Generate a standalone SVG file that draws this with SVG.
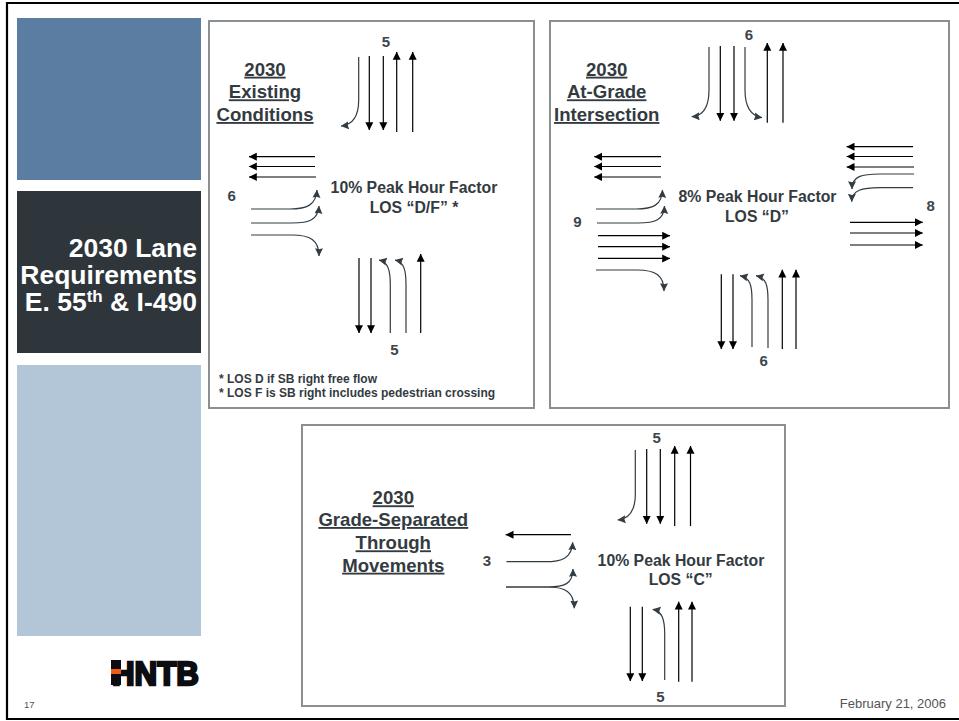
<svg xmlns="http://www.w3.org/2000/svg" width="959" height="721" viewBox="0 0 959 721">
<defs>
<marker id="s" markerUnits="userSpaceOnUse" markerWidth="9" markerHeight="9" refX="7.8" refY="4.5" orient="auto"><path d="M0,0.5 L8,4.5 L0,8.5 z" fill="#000"/></marker>
<marker id="c" markerUnits="userSpaceOnUse" markerWidth="9" markerHeight="9" refX="7.8" refY="4.5" orient="auto"><path d="M0,0.5 L8,4.5 L0,8.5 L1,4.5 z" fill="#333c42"/></marker>
</defs>
<style>
text{font-family:"Liberation Sans",Arial,sans-serif;fill:#333b41;font-weight:bold}
.panel{fill:#fff;stroke:#8a8f93;stroke-width:2}
.h{font-size:18.6px;text-anchor:middle;text-decoration:underline}
.m{font-size:15.8px;text-anchor:middle}
.n{font-size:15px;text-anchor:middle;fill:#3d454b}
.f{font-size:12px}
.t{font-size:26.5px;text-anchor:end;fill:#fff}
.st{fill:none;stroke:#000;stroke-width:1.2;marker-end:url(#s)}
.cv{fill:none;stroke:#333c42;stroke-width:1.2;marker-end:url(#c)}
.ft{font-weight:normal;fill:#555}
</style>
<rect width="959" height="721" fill="#fff"/>
<g id="frame"><path d="M959,3 H7 V719 H959" fill="none" stroke="#000" stroke-width="2.2"/></g>
<g id="sidebar">
<rect x="17" y="18" width="184" height="162" fill="#5a7da1"/>
<rect x="17" y="191" width="184" height="162" fill="#2e363c"/>
<rect x="17" y="365" width="184" height="271" fill="#b3c6d8"/>
<text class="t" x="197" y="257">2030 Lane</text>
<text class="t" x="197" y="284">Requirements</text>
<text class="t" x="197" y="311">E. 55<tspan font-size="17" dy="-9">th</tspan><tspan dy="9"> &amp; I-490</tspan></text>
</g>
<g id="logo">
<text x="112" y="684.5" font-size="34" textLength="87" lengthAdjust="spacingAndGlyphs" style="fill:#0b0d10;stroke:#0b0d10;stroke-width:2.4">HNTB</text>
<rect x="111" y="660" width="10" height="25" fill="#0b0d10"/>
<rect x="111" y="669" width="10" height="5" fill="#f05a14"/>
</g>
<g id="footer">
<text class="ft" x="24" y="708" font-size="9.5">17</text>
<text class="ft" x="946" y="708" font-size="13" text-anchor="end">February 21, 2006</text>
</g>
<g id="panel-existing">
<rect class="panel" x="209" y="21" width="325" height="387"/>
<text class="h" x="265" y="75.7">2030</text>
<text class="h" x="265" y="98.3">Existing</text>
<text class="h" x="265" y="121">Conditions</text>
<text class="m" x="414" y="192.7">10% Peak Hour Factor</text>
<text class="m" x="414" y="213.3">LOS “D/F” *</text>
<text class="n" x="386" y="46.5">5</text>
<text class="n" x="231.7" y="201">6</text>
<text class="n" x="394.3" y="355">5</text>
<text class="f" x="219" y="382.7">* LOS D if SB right free flow</text>
<text class="f" x="219" y="396.7">* LOS F is SB right includes pedestrian crossing</text>
</g>
<g id="panel-at-grade">
<rect class="panel" x="550" y="21" width="399" height="387"/>
<text class="h" x="606.7" y="75.7">2030</text>
<text class="h" x="606.7" y="98.3">At-Grade</text>
<text class="h" x="606.7" y="121">Intersection</text>
<text class="m" x="757.5" y="202.3">8% Peak Hour Factor</text>
<text class="m" x="757" y="222.3">LOS “D”</text>
<text class="n" x="749" y="40">6</text>
<text class="n" x="930.7" y="210.7">8</text>
<text class="n" x="577.3" y="227">9</text>
<text class="n" x="763.7" y="365.7">6</text>
</g>
<g id="panel-grade-separated">
<rect class="panel" x="302" y="425" width="483" height="281"/>
<text class="h" x="393.3" y="504.3">2030</text>
<text class="h" x="393.3" y="526">Grade-Separated</text>
<text class="h" x="393.3" y="549.3">Through</text>
<text class="h" x="393.3" y="571.7">Movements</text>
<text class="m" x="681" y="565.7">10% Peak Hour Factor</text>
<text class="m" x="680.7" y="585">LOS “C”</text>
<text class="n" x="656.7" y="443.3">5</text>
<text class="n" x="487" y="565.7">3</text>
<text class="n" x="660.3" y="701.7">5</text>
</g>
<g id="connectors">
<path class="cv" d="M358.7,57 V100 C358.7,118 351,125 341,126"/>
<path class="st" d="M369.3,56 V130"/>
<path class="st" d="M383.3,56 V130"/>
<path class="st" d="M396.7,132 V52"/>
<path class="st" d="M412.7,132 V52"/>
<path class="st" d="M315,156.7 H249"/>
<path class="st" d="M315,166.5 H249"/>
<path class="st" d="M316,177 H249"/>
<path class="cv" d="M251,209 H290 C307,209 316,205 317,190"/>
<path class="cv" d="M251,223 H292 C309,223 318,220 319,206"/>
<path class="cv" d="M251,235 H292 C310,235 319,240 319,256"/>
<path class="st" d="M359,258 V333"/>
<path class="st" d="M371,258 V333"/>
<path class="cv" d="M390.3,333 V285 C390.3,270 388,262 379,260"/>
<path class="cv" d="M406,333 V285 C406,270 404,262 395,260"/>
<path class="st" d="M420.7,333 V254"/>

<path class="cv" d="M709,47 V90 C709,108 702,116 691.7,116.7"/>
<path class="st" d="M720.3,46 V120.7"/>
<path class="st" d="M734,46 V120.7"/>
<path class="cv" d="M745,47 V90 C745,108 752,116 762,117.7"/>
<path class="st" d="M767.3,122.7 V43"/>
<path class="st" d="M783,122.7 V43"/>
<path class="st" d="M661,156.7 H594.3"/>
<path class="st" d="M661,166.5 H594.3"/>
<path class="st" d="M661,177 H594.3"/>
<path class="st" d="M913,146.7 H846.7"/>
<path class="st" d="M913,156.5 H846.7"/>
<path class="st" d="M914,167 H846.7"/>
<path class="cv" d="M914,174 H880 C862,174 852,176 852,189"/>
<path class="cv" d="M913,187.7 H880 C862,187.7 852,190 851.7,201.7"/>
<path class="st" d="M850,222.3 H922.7"/>
<path class="st" d="M850,233 H922.7"/>
<path class="st" d="M850,245 H922.7"/>
<path class="cv" d="M596,209 H636 C653,209 662,205 662.5,190"/>
<path class="cv" d="M597,223 H638 C655,223 664,220 664.5,206"/>
<path class="st" d="M598,235.7 H670"/>
<path class="st" d="M598,246.7 H670"/>
<path class="st" d="M598,258.4 H670"/>
<path class="cv" d="M596,270 H637 C655,270 664,275 664,291"/>
<path class="st" d="M721.3,274.3 V349"/>
<path class="st" d="M733,274.3 V349"/>
<path class="cv" d="M752,347 V300 C752,285 750,278 740,275.7"/>
<path class="cv" d="M768,348 V300 C768,285 766,278 756,275.7"/>
<path class="st" d="M782.3,349 V269.7"/>
<path class="st" d="M796,349 V269.7"/>

<path class="cv" d="M635.3,450 V494 C635.3,512 628,519 617.7,520"/>
<path class="st" d="M646.7,449 V523.7"/>
<path class="st" d="M660.3,449 V523.7"/>
<path class="st" d="M674.7,526 V446"/>
<path class="st" d="M690.5,526 V446"/>
<path class="st" d="M571,534.7 H505.7"/>
<path class="cv" d="M506.5,561.7 H545 C562,561.7 572,558 572.7,542.3"/>
<path class="cv" d="M506,587 H548 C564,587 573,584 573,569"/>
<path class="cv" d="M506,587 H548 C565,587 574,592 574.3,608.3"/>
<path class="st" d="M630.3,606.7 V681"/>
<path class="st" d="M642.3,606.7 V681"/>
<path class="cv" d="M664.7,680 V634 C664.7,619 662,611 652.7,609.3"/>
<path class="st" d="M678.7,681.7 V601.7"/>
<path class="st" d="M692,681.7 V601.7"/>
</g>
</svg>
